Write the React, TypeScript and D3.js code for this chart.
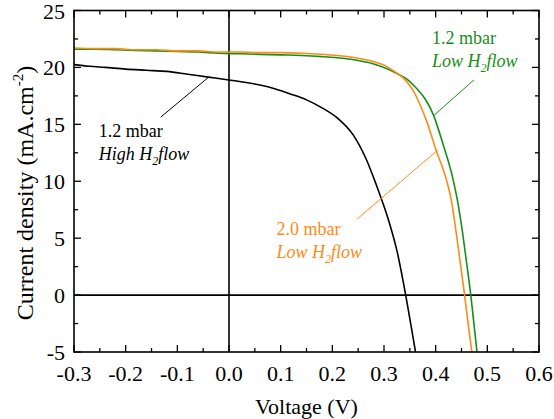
import React from "react";
import * as d3 from "d3";

// J–V curves (voltage in V, current density in mA/cm²)
const highFlowV = [-0.3, -0.27, -0.24, -0.2, -0.16, -0.12, -0.08, -0.04, 0, 0.03, 0.06, 0.09, 0.12, 0.15, 0.18, 0.21, 0.24, 0.265, 0.285, 0.3, 0.31, 0.325, 0.342, 0.352, 0.361];
const highFlowJ = [20.25, 20.1, 20.0, 19.85, 19.75, 19.65, 19.4, 19.15, 18.9, 18.7, 18.45, 18.1, 17.65, 17.15, 16.45, 15.55, 14.1, 12.0, 9.7, 7.8, 6.4, 3.9, 0, -2.6, -5];

const low20V = [-0.3, -0.26, -0.22, -0.18, -0.14, -0.1, -0.06, -0.02, 0.02, 0.06, 0.1, 0.14, 0.18, 0.22, 0.25, 0.28, 0.3, 0.32, 0.34, 0.356, 0.37, 0.382, 0.401, 0.421, 0.43, 0.44, 0.448, 0.456, 0.463, 0.47];
const low20J = [21.7, 21.65, 21.65, 21.55, 21.55, 21.45, 21.45, 21.35, 21.35, 21.3, 21.3, 21.25, 21.15, 21.0, 20.8, 20.5, 20.2, 19.65, 18.95, 18.0, 16.7, 15.35, 12.7, 10.1, 8.4, 5.4, 2.7, 0, -2.6, -5];

const low12V = [-0.3, -0.26, -0.22, -0.18, -0.14, -0.1, -0.06, -0.02, 0.02, 0.06, 0.1, 0.14, 0.18, 0.22, 0.25, 0.28, 0.3, 0.326, 0.345, 0.36, 0.38, 0.395, 0.414, 0.434, 0.443, 0.452, 0.46, 0.468, 0.474, 0.48];
const low12J = [21.6, 21.6, 21.55, 21.5, 21.45, 21.4, 21.35, 21.25, 21.2, 21.15, 21.1, 21.05, 20.95, 20.8, 20.6, 20.3, 20.0, 19.45, 18.95, 18.3, 17.2, 15.9, 13.3, 10.1, 8.1, 5.5, 2.8, 0, -2.5, -5];

const xTickValues = [-0.3, -0.2, -0.1, 0, 0.1, 0.2, 0.3, 0.4, 0.5, 0.6];
const xTickLabels = ["-0.3", "-0.2", "-0.1", "0.0", "0.1", "0.2", "0.3", "0.4", "0.5", "0.6"];
const yTickValues = [-5, 0, 5, 10, 15, 20, 25];

const BLACK = "#000000";
const GREEN = "#178f17";
const ORANGE = "#ff8a16";

const series = [
  { name: "high12", v: highFlowV, j: highFlowJ, color: BLACK },
  { name: "low12", v: low12V, j: low12J, color: GREEN },
  { name: "low20", v: low20V, j: low20J, color: ORANGE },
];

// annotation anchors, in data units
const annotations = [
  { line: "1.2 mbar", flow: "High", at: [-0.252, 13.9], color: BLACK, leader: [[-0.132, 15.64], [-0.039, 19.16]] },
  { line: "1.2 mbar", flow: "Low", at: [0.393, 22.1], color: GREEN, leader: [[0.474, 18.9], [0.397, 15.8]] },
  { line: "2.0 mbar", flow: "Low", at: [0.092, 5.25], color: ORANGE, leader: [[0.248, 6.68], [0.404, 12.74]] },
];

const W = 554;
const H = 419;
const left = 74;
const right = 539;
const top = 10.5;
const bottom = 352;

const txt = { fontFamily: '"Liberation Serif"' };

export default function App() {
  const x = d3.scaleLinear().domain([-0.3, 0.6]).range([left, right]);
  const y = d3.scaleLinear().domain([-5, 25]).range([bottom, top]);

  const line = d3
    .line<[number, number]>()
    .x((d) => x(d[0]))
    .y((d) => y(d[1]))
    .curve(d3.curveMonotoneX);

  const xMinor = d3.range(-0.25, 0.6, 0.1);
  const yMinor = d3.range(-2.5, 25, 5);
  const major = 7;
  const minor = 4;
  const lineH = 23; // second annotation line offset (px)

  return (
    <svg width={W} height={H} style={{ position: "absolute", left: 0, top: 0, background: "#fff" }}>
      <defs>
        <clipPath id="plot-area">
          <rect x={left} y={top} width={right - left} height={bottom - top} />
        </clipPath>
      </defs>

      {/* zero reference lines */}
      <line x1={x(0)} x2={x(0)} y1={top} y2={bottom} stroke="#000" strokeWidth={1.6} />
      <line x1={left} x2={right} y1={y(0)} y2={y(0)} stroke="#000" strokeWidth={1.6} />

      {/* curves */}
      <g clipPath="url(#plot-area)">
        {series.map((s) => (
          <path
            key={s.name}
            d={line(s.v.map((v, i) => [v, s.j[i]] as [number, number])) || ""}
            fill="none"
            stroke={s.color}
            strokeWidth={1.6}
            strokeLinejoin="round"
          />
        ))}
      </g>

      {/* frame */}
      <rect x={left} y={top} width={right - left} height={bottom - top} fill="none" stroke="#000" strokeWidth={1.6} />

      {/* x ticks, bottom and top, pointing inward */}
      {xTickValues.map((v) => (
        <g key={"xt" + v}>
          <line x1={x(v)} x2={x(v)} y1={bottom} y2={bottom - major} stroke="#000" strokeWidth={1.3} />
          <line x1={x(v)} x2={x(v)} y1={top} y2={top + major} stroke="#000" strokeWidth={1.3} />
        </g>
      ))}
      {xMinor.map((v) => (
        <g key={"xm" + v}>
          <line x1={x(v)} x2={x(v)} y1={bottom} y2={bottom - minor} stroke="#000" strokeWidth={1.3} />
          <line x1={x(v)} x2={x(v)} y1={top} y2={top + minor} stroke="#000" strokeWidth={1.3} />
        </g>
      ))}
      {/* y ticks, left and right */}
      {yTickValues.map((v) => (
        <g key={"yt" + v}>
          <line x1={left} x2={left + major} y1={y(v)} y2={y(v)} stroke="#000" strokeWidth={1.3} />
          <line x1={right} x2={right - major} y1={y(v)} y2={y(v)} stroke="#000" strokeWidth={1.3} />
        </g>
      ))}
      {yMinor.map((v) => (
        <g key={"ym" + v}>
          <line x1={left} x2={left + minor} y1={y(v)} y2={y(v)} stroke="#000" strokeWidth={1.3} />
          <line x1={right} x2={right - minor} y1={y(v)} y2={y(v)} stroke="#000" strokeWidth={1.3} />
        </g>
      ))}

      {/* tick labels */}
      {xTickValues.map((v, i) => (
        <text key={"xl" + v} style={txt} x={x(v)} y={381} textAnchor="middle" fontSize={22} fill="#000">
          {xTickLabels[i]}
        </text>
      ))}
      {yTickValues.map((v) => (
        <text key={"yl" + v} style={txt} x={65} y={y(v) + 8} textAnchor="end" fontSize={22} fill="#000">
          {String(v)}
        </text>
      ))}

      {/* axis titles */}
      <text style={txt} x={(left + right) / 2} y={414} textAnchor="middle" fontSize={22} fill="#000">
        Voltage (V)
      </text>
      <text
        style={txt}
        transform="translate(33, 193) rotate(-90)"
        textAnchor="middle"
        fontSize={24}
        fill="#000"
      >
        Current density (mA.cm
        <tspan fontSize={15} dy={-10}>-2</tspan>
        <tspan dy={10}>)</tspan>
      </text>

      {/* annotations */}
      {annotations.map((a, i) => (
        <g key={"an" + i} fill={a.color}>
          <line
            x1={x(a.leader[0][0])}
            y1={y(a.leader[0][1])}
            x2={x(a.leader[1][0])}
            y2={y(a.leader[1][1])}
            stroke={a.color}
            strokeWidth={1}
          />
          <text style={txt} x={x(a.at[0])} y={y(a.at[1])} fontSize={18}>
            {a.line}
          </text>
          <text style={txt} x={x(a.at[0])} y={y(a.at[1]) + lineH} fontSize={18} fontStyle="italic">
            {a.flow} H
            <tspan fontSize={12} dy={5}>2</tspan>
            <tspan dy={-5}>flow</tspan>
          </text>
        </g>
      ))}
    </svg>
  );
}
